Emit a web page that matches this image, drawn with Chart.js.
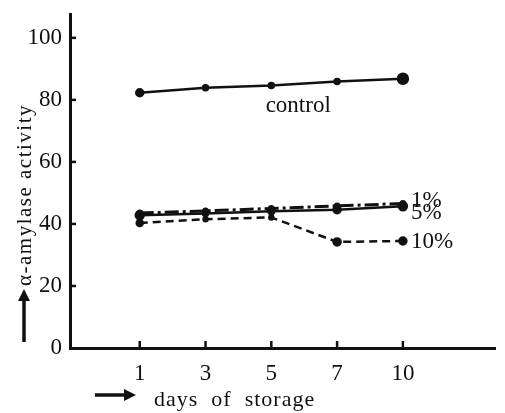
<!DOCTYPE html>
<html>
<head>
<meta charset="utf-8">
<script src="https://cdn.jsdelivr.net/npm/chart.js@4/dist/chart.umd.min.js"></script>
<style>
  html, body { margin: 0; padding: 0; background: #fff; }
  #wrap { width: 505px; height: 413px; }
</style>
</head>
<body>
<div id="wrap"><canvas id="chart"></canvas></div>
<script>
const days = ['1', '3', '5', '7', '10'];
const control = [82.3, 83.9, 84.6, 85.9, 86.8];
const pct1 = [43.5, 44.2, 45, 45.8, 46.6];
const pct5 = [42.8, 43.4, 44.1, 44.6, 45.7];
const pct10 = [40.3, 41.5, 42.1, 34.2, 34.5];
const yTicks = [0, 20, 40, 60, 80, 100];

const ink = '#111';
const serif = '"Liberation Serif", "DejaVu Serif", serif';

function pts(vals) {
    return vals.map((v, i) => ({ x: i, y: v }));
}

// text labels, arrows and inward tick marks
const extras = {
    id: 'extras',
    afterDraw(chart) {
        const ctx = chart.ctx;
        const xs = chart.scales.x, ys = chart.scales.y;
        ctx.save();
        ctx.strokeStyle = ink;
        ctx.fillStyle = ink;

        // inward ticks
        ctx.lineWidth = 2.5;
        yTicks.slice(1).forEach(v => {
            const py = ys.getPixelForValue(v);
            ctx.beginPath();
            ctx.moveTo(xs.left, py);
            ctx.lineTo(xs.left + 6, py);
            ctx.stroke();
        });
        days.forEach((d, i) => {
            const px = xs.getPixelForValue(i);
            ctx.beginPath();
            ctx.moveTo(px, ys.bottom);
            ctx.lineTo(px, ys.bottom - 7);
            ctx.stroke();
        });

        // series labels
        ctx.font = '23px ' + serif;
        ctx.textBaseline = 'middle';
        ctx.textAlign = 'left';
        const last = days.length - 1;
        const lx = xs.getPixelForValue(last) + 8;
        ctx.fillText('1%', lx, ys.getPixelForValue(pct1[last]) - 3);
        ctx.fillText('5%', lx, ys.getPixelForValue(pct5[last]) + 7);
        ctx.fillText('10%', lx, ys.getPixelForValue(pct10[last]) + 1);
        ctx.textAlign = 'center';
        ctx.fillText('control', (xs.getPixelForValue(2) + xs.getPixelForValue(3)) / 2 - 6,
            ys.getPixelForValue(control[2]) + 20);

        // y title with arrow
        ctx.save();
        ctx.translate(25, 195);
        ctx.rotate(-Math.PI / 2);
        ctx.font = '21px ' + serif;
        ctx.letterSpacing = '1.5px';
        ctx.fillText('α-amylase activity', 0, 0);
        ctx.restore();
        ctx.lineWidth = 3.5;
        ctx.beginPath();
        ctx.moveTo(24, 342);
        ctx.lineTo(24, 298);
        ctx.stroke();
        ctx.beginPath();
        ctx.moveTo(24, 289);
        ctx.lineTo(18, 301);
        ctx.lineTo(30, 301);
        ctx.closePath();
        ctx.fill();

        // x title with arrow
        ctx.beginPath();
        ctx.moveTo(95, 395);
        ctx.lineTo(126, 395);
        ctx.stroke();
        ctx.beginPath();
        ctx.moveTo(136, 395);
        ctx.lineTo(124, 389);
        ctx.lineTo(124, 401);
        ctx.closePath();
        ctx.fill();
        ctx.font = '22px ' + serif;
        ctx.textAlign = 'left';
        ctx.textBaseline = 'alphabetic';
        ctx.letterSpacing = '1px';
        ctx.fillText('days  of  storage', 154, 406);
        ctx.restore();
    }
};

new Chart(document.getElementById('chart'), {
    type: 'line',
    data: {
        datasets: [
            { label: 'control', data: pts(control), borderColor: ink, backgroundColor: ink,
              borderWidth: 2.5, pointRadius: [3.5, 2.5, 2.5, 2.5, 5] },
            { label: '1%', data: pts(pct1), borderColor: ink, backgroundColor: ink,
              borderWidth: 3, borderDash: [14, 4, 3, 4], pointRadius: 2 },
            { label: '5%', data: pts(pct5), borderColor: ink, backgroundColor: ink,
              borderWidth: 2.5, pointRadius: [4, 2.5, 3, 3.5, 4] },
            { label: '10%', data: pts(pct10), borderColor: ink, backgroundColor: ink,
              borderWidth: 2.5, borderDash: [8, 5], pointRadius: [3, 2, 2, 3.5, 3.5] }
        ]
    },
    options: {
        responsive: true,
        maintainAspectRatio: false,
        animation: false,
        layout: { padding: { top: 0, right: 10, left: 0, bottom: 0 } },
        plugins: { legend: { display: false }, tooltip: { enabled: false } },
        scales: {
            x: {
                type: 'linear',
                min: -1.06,
                max: 5.4,
                afterBuildTicks: s => { s.ticks = days.map((d, i) => ({ value: i })); },
                afterFit: s => { s.height = 65; },
                grid: { display: false, drawTicks: false },
                border: { display: true, color: ink, width: 3 },
                ticks: {
                    padding: 12,
                    color: ink,
                    font: { family: serif, size: 23 },
                    callback: v => days[v]
                }
            },
            y: {
                min: 0,
                max: 107.4,
                afterBuildTicks: s => { s.ticks = yTicks.map(v => ({ value: v })); },
                afterFit: s => { s.width = 70; },
                grid: { display: false, drawTicks: false },
                border: { display: true, color: ink, width: 3 },
                ticks: {
                    padding: 8,
                    color: ink,
                    font: { family: serif, size: 23, lineHeight: 0.6 }
                }
            }
        }
    },
    plugins: [extras]
});
</script>
</body>
</html>
